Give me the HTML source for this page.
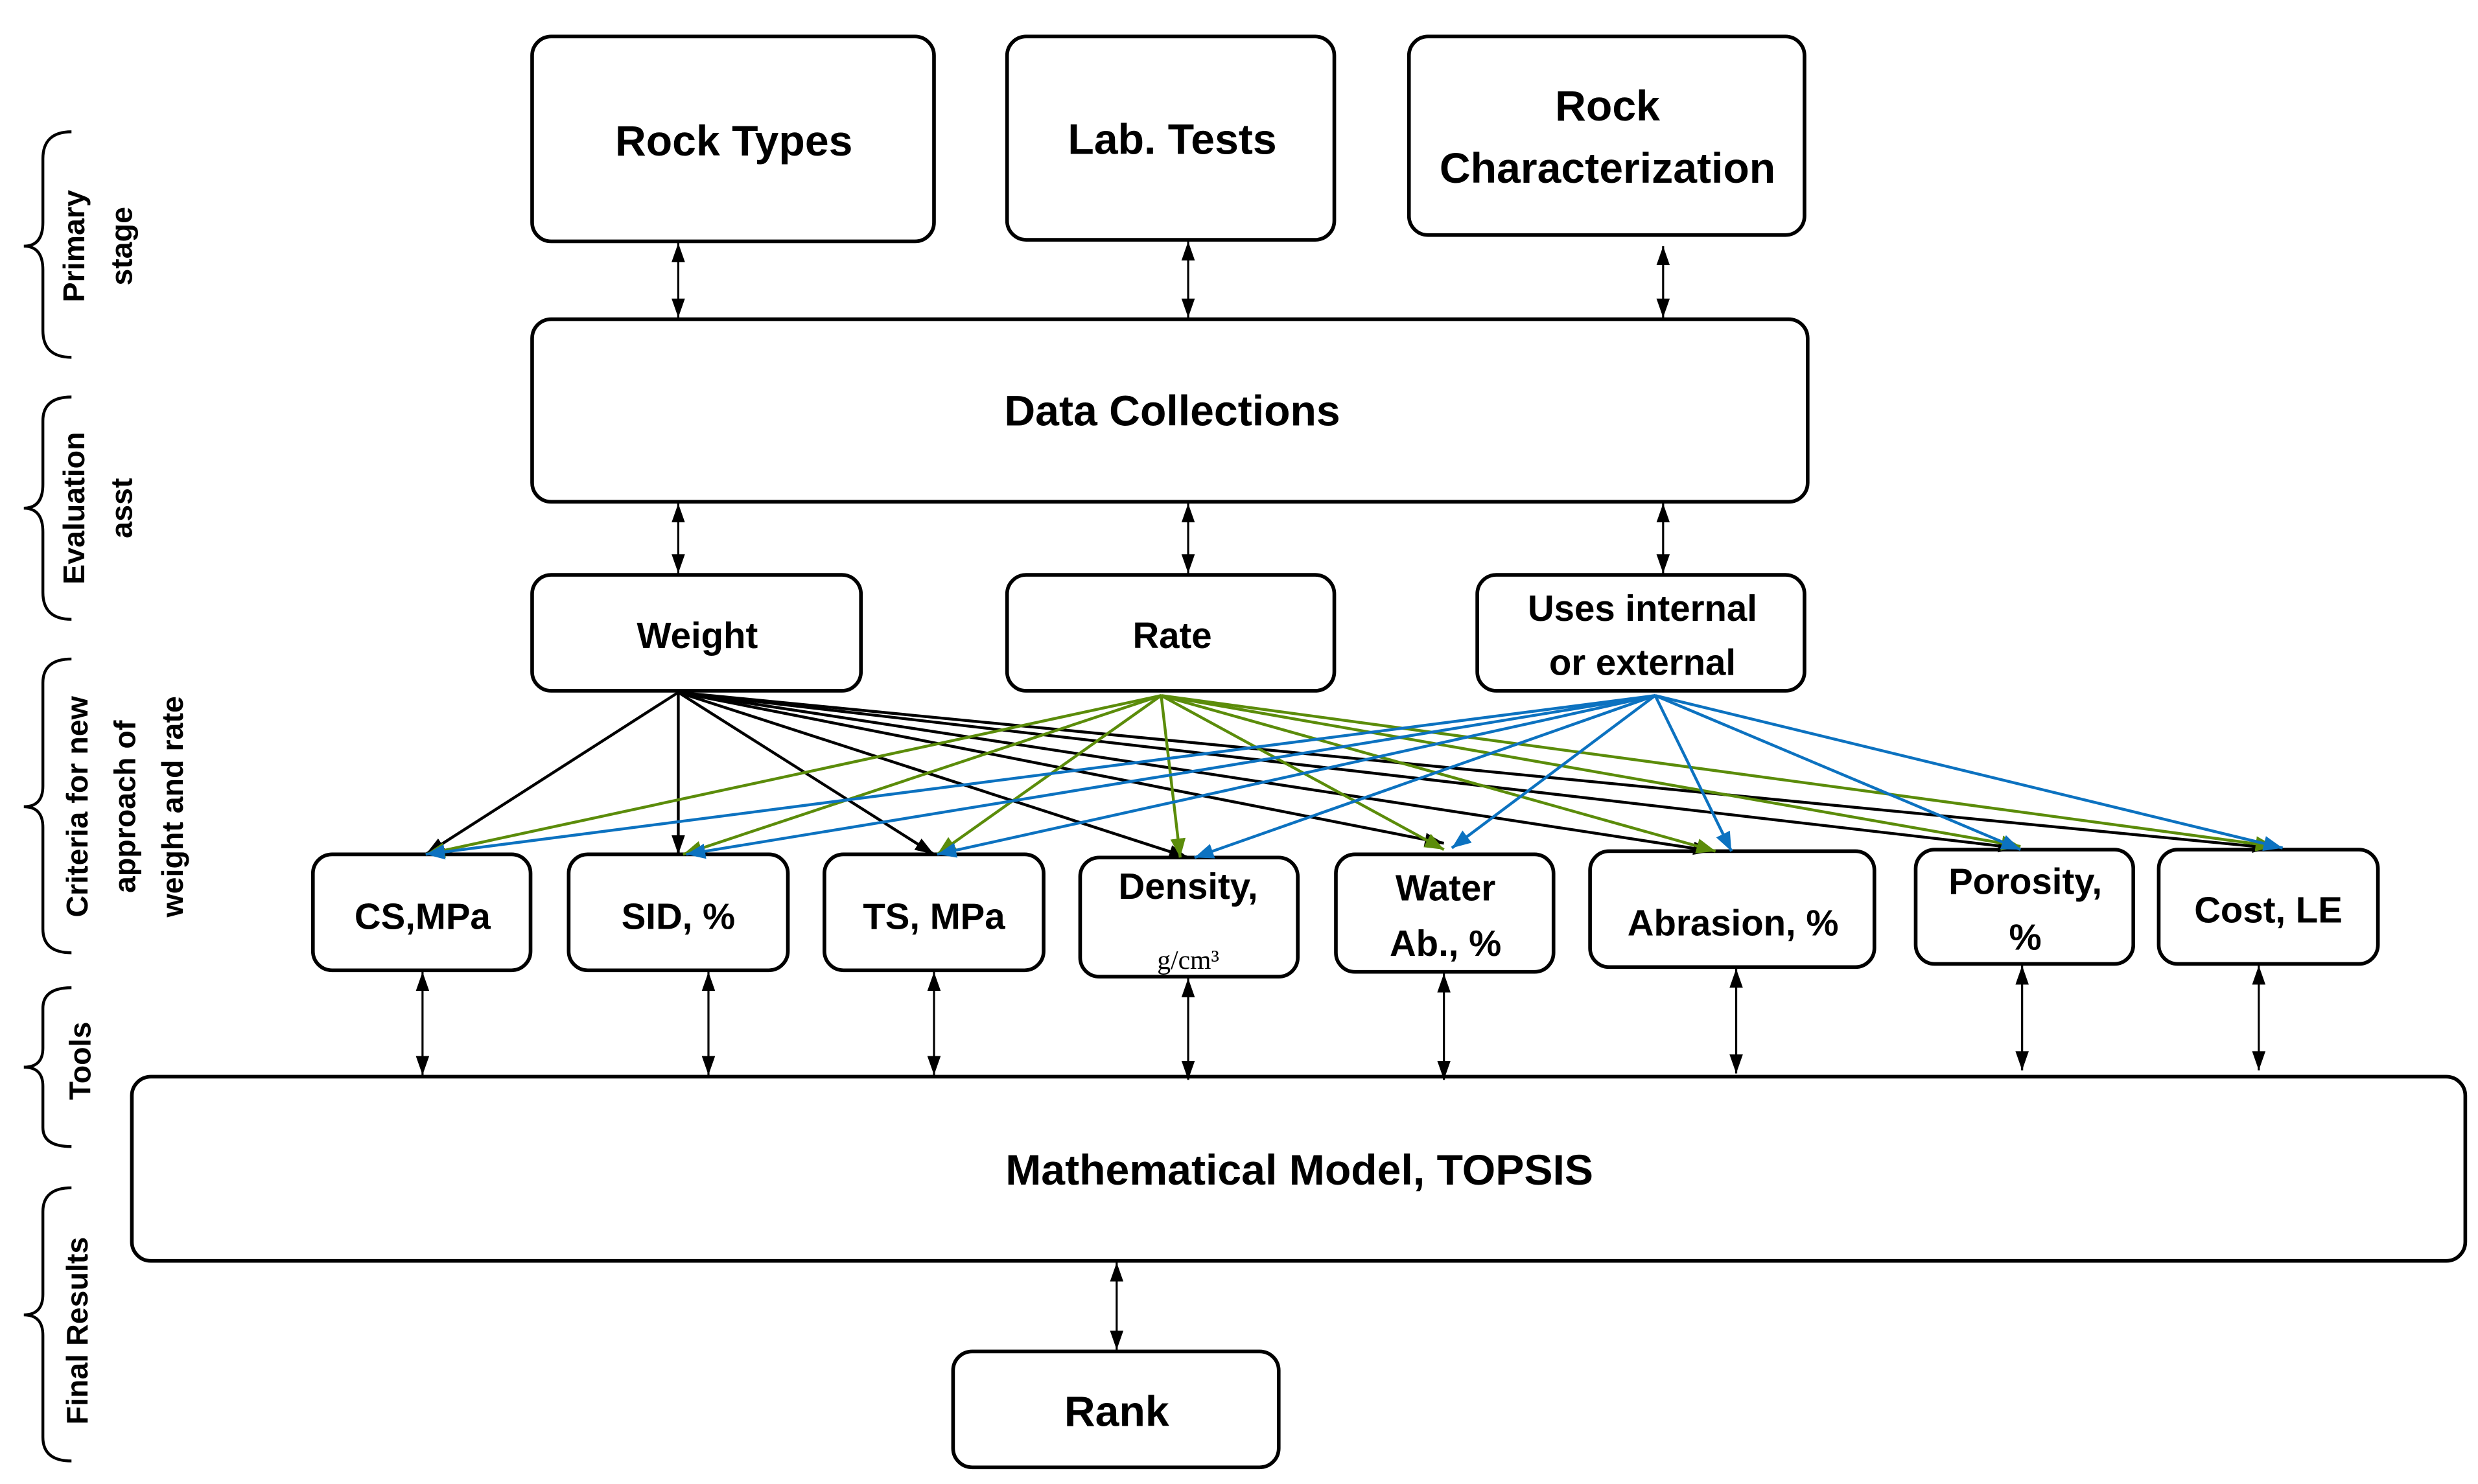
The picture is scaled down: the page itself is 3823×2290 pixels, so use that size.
<!DOCTYPE html>
<html><head><meta charset="utf-8"><style>
html,body{margin:0;padding:0;background:#fff;}
svg{display:block;}
text{font-family:"Liberation Sans",sans-serif;font-weight:bold;fill:#000;}
</style></head><body>
<svg width="3823" height="2290" viewBox="0 0 1560 934.5" preserveAspectRatio="none" xmlns="http://www.w3.org/2000/svg">
<defs>
<marker id="ak" markerUnits="userSpaceOnUse" markerWidth="12" markerHeight="12" refX="10" refY="5" orient="auto-start-reverse" viewBox="0 0 10 10"><path d="M0,1.5 L10,5 L0,8.5 z" fill="#000"/></marker>
<marker id="ag" markerUnits="userSpaceOnUse" markerWidth="12" markerHeight="12" refX="10" refY="5" orient="auto" viewBox="0 0 10 10"><path d="M0,1 L10,5 L0,9 z" fill="#5b8c0a"/></marker>
<marker id="ab" markerUnits="userSpaceOnUse" markerWidth="12" markerHeight="12" refX="10" refY="5" orient="auto" viewBox="0 0 10 10"><path d="M0,1 L10,5 L0,9 z" fill="#0c72c0"/></marker>
</defs>
<g fill="#fff" stroke="#000" stroke-width="2.3">
<rect x="335" y="23" width="253" height="129" rx="12"/>
<rect x="634" y="23" width="206" height="128" rx="12"/>
<rect x="887" y="23" width="249" height="125" rx="12"/>
<rect x="335" y="201" width="803" height="115" rx="12"/>
<rect x="335" y="362" width="207" height="73" rx="12"/>
<rect x="634" y="362" width="206" height="73" rx="12"/>
<rect x="930" y="362" width="206" height="73" rx="12"/>
<rect x="197" y="538" width="137" height="73" rx="12"/>
<rect x="358" y="538" width="138" height="73" rx="12"/>
<rect x="519" y="538" width="138" height="73" rx="12"/>
<rect x="680" y="540" width="137" height="75" rx="12"/>
<rect x="841" y="538" width="137" height="74" rx="12"/>
<rect x="1001" y="536" width="179" height="73" rx="12"/>
<rect x="1206" y="535" width="137" height="72" rx="12"/>
<rect x="1359" y="535" width="138" height="72" rx="12"/>
<rect x="83" y="678" width="1469" height="116" rx="12"/>
<rect x="600" y="851" width="205" height="73" rx="12"/>
</g>
<g stroke="#000" stroke-width="1.3" fill="none" marker-start="url(#ak)" marker-end="url(#ak)">
<line x1="427" y1="153" x2="427" y2="200"/>
<line x1="748" y1="152" x2="748" y2="200"/>
<line x1="1047" y1="155" x2="1047" y2="200"/>
<line x1="427" y1="317" x2="427" y2="361"/>
<line x1="748" y1="317" x2="748" y2="361"/>
<line x1="1047" y1="317" x2="1047" y2="361"/>
<line x1="266" y1="612" x2="266" y2="677"/>
<line x1="446" y1="612" x2="446" y2="677"/>
<line x1="588" y1="612" x2="588" y2="677"/>
<line x1="748" y1="616" x2="748" y2="680"/>
<line x1="909" y1="613" x2="909" y2="680"/>
<line x1="1093" y1="610" x2="1093" y2="676"/>
<line x1="1273" y1="608" x2="1273" y2="674"/>
<line x1="1422" y1="608" x2="1422" y2="674"/>
<line x1="703" y1="795" x2="703" y2="850"/>
</g>
<g stroke="#000" stroke-width="1.8" fill="none" marker-end="url(#ak)">
<line x1="427" y1="436" x2="268" y2="538"/>
<line x1="427" y1="436" x2="427" y2="538"/>
<line x1="427" y1="436" x2="588" y2="538"/>
<line x1="427" y1="436" x2="748" y2="540"/>
<line x1="427" y1="436" x2="909" y2="531"/>
<line x1="427" y1="436" x2="1078" y2="536"/>
<line x1="427" y1="436" x2="1270" y2="534"/>
<line x1="427" y1="436" x2="1430" y2="534"/>
</g>
<g stroke="#5b8c0a" stroke-width="1.8" fill="none" marker-end="url(#ag)">
<line x1="731" y1="438" x2="268" y2="538"/>
<line x1="731" y1="438" x2="430" y2="538"/>
<line x1="731" y1="438" x2="590" y2="538"/>
<line x1="731" y1="438" x2="743" y2="540"/>
<line x1="731" y1="438" x2="909" y2="535"/>
<line x1="731" y1="438" x2="1080" y2="536"/>
<line x1="731" y1="438" x2="1272" y2="533"/>
<line x1="731" y1="438" x2="1432" y2="533"/>
</g>
<g stroke="#0c72c0" stroke-width="1.8" fill="none" marker-end="url(#ab)">
<line x1="1042" y1="438" x2="268" y2="538"/>
<line x1="1042" y1="438" x2="432" y2="538"/>
<line x1="1042" y1="438" x2="590" y2="538"/>
<line x1="1042" y1="438" x2="752" y2="540"/>
<line x1="1042" y1="438" x2="914" y2="534"/>
<line x1="1042" y1="438" x2="1090" y2="536"/>
<line x1="1042" y1="438" x2="1272" y2="535"/>
<line x1="1042" y1="438" x2="1437" y2="534"/>
</g>
<g text-anchor="middle" font-size="27">
<text x="462" y="98">Rock Types</text>
<text x="738" y="97">Lab. Tests</text>
<text x="1012" y="76">Rock</text>
<text x="1012" y="115">Characterization</text>
<text x="738" y="268">Data Collections</text>
<text x="703" y="898">Rank</text>
<text x="818" y="746">Mathematical Model, TOPSIS</text>
</g>
<g text-anchor="middle" font-size="23">
<text x="439" y="408">Weight</text>
<text x="738" y="408">Rate</text>
<text x="1034" y="391">Uses internal</text>
<text x="1034" y="425">or external</text>
<text x="266" y="585">CS,MPa</text>
<text x="427" y="585">SID, %</text>
<text x="588" y="585">TS, MPa</text>
<text x="748" y="566">Density,</text>
<text x="748" y="610" style="font-family:'Liberation Serif',serif;font-weight:normal;font-size:17px">g/cm³</text>
<text x="910" y="567">Water</text>
<text x="910" y="602">Ab., %</text>
<text x="1091" y="589">Abrasion, %</text>
<text x="1275" y="563">Porosity,</text>
<text x="1275" y="598">%</text>
<text x="1428" y="581">Cost, LE</text>
</g>
<g stroke="#000" stroke-width="1.8" fill="none">
<path d="M45,83 Q27,83 27,100 L27,140 Q27,155 15,155 Q27,155 27,170 L27,208 Q27,225 45,225"/>
<path d="M45,250 Q27,250 27,265 L27,305 Q27,320 15,320 Q27,320 27,335 L27,373 Q27,390 45,390"/>
<path d="M45,415 Q27,415 27,430 L27,495 Q27,508 15,508 Q27,508 27,521 L27,585 Q27,600 45,600"/>
<path d="M45,622 Q27,622 27,635 L27,660 Q27,672 15,672 Q27,672 27,684 L27,710 Q27,722 45,722"/>
<path d="M45,748 Q27,748 27,763 L27,815 Q27,828 15,828 Q27,828 27,841 L27,905 Q27,920 45,920"/>
</g>
<g text-anchor="middle" font-size="19">
<text transform="translate(53,155) rotate(-90)">Primary</text>
<text transform="translate(83,155) rotate(-90)">stage</text>
<text transform="translate(53,320) rotate(-90)">Evaluation</text>
<text transform="translate(83,320) rotate(-90)">asst</text>
<text transform="translate(55,508) rotate(-90)">Criteria for new</text>
<text transform="translate(85,508) rotate(-90)">approach of</text>
<text transform="translate(115,508) rotate(-90)">weight and rate</text>
<text transform="translate(57,668) rotate(-90)">Tools</text>
<text transform="translate(55,838) rotate(-90)">Final Results</text>
</g>
</svg>
</body></html>
